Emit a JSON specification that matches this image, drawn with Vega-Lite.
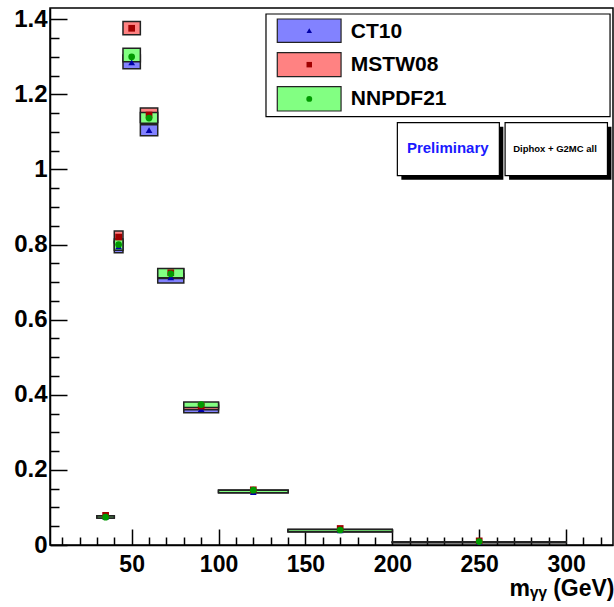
{
  "$schema": "https://vega.github.io/schema/vega-lite/v6.json",
  "width": 563,
  "height": 537,
  "autosize": {"type": "none"},
  "padding": {"left": 50, "top": 8, "right": 1, "bottom": 62},
  "config": {
    "font": "Liberation Sans",
    "view": {"stroke": "#000", "strokeWidth": 1.5},
    "axis": {
      "grid": false,
      "domainColor": "#000",
      "domainWidth": 1.5,
      "tickColor": "#000",
      "tickWidth": 1.5,
      "labelColor": "#000",
      "labelFont": "Liberation Sans",
      "labelFontWeight": "bold",
      "titleColor": "#000",
      "titleFont": "Liberation Sans",
      "titleFontWeight": "bold"
    }
  },
  "datasets": {
    "bins": [
      {"lo": 30, "hi": 40, "mid": 35, "pdf": "CT10", "val": 0.075, "elo": 0.072, "ehi": 0.077},
      {"lo": 30, "hi": 40, "mid": 35, "pdf": "MSTW08", "val": 0.079, "elo": 0.073, "ehi": 0.078},
      {"lo": 30, "hi": 40, "mid": 35, "pdf": "NNPDF21", "val": 0.074, "elo": 0.072, "ehi": 0.077},
      {"lo": 40, "hi": 45, "mid": 42.5, "pdf": "CT10", "val": 0.795, "elo": 0.778, "ehi": 0.808},
      {"lo": 40, "hi": 45, "mid": 42.5, "pdf": "MSTW08", "val": 0.82, "elo": 0.805, "ehi": 0.836},
      {"lo": 40, "hi": 45, "mid": 42.5, "pdf": "NNPDF21", "val": 0.8, "elo": 0.785, "ehi": 0.815},
      {"lo": 45, "hi": 55, "mid": 50, "pdf": "CT10", "val": 1.285, "elo": 1.268, "ehi": 1.305},
      {"lo": 45, "hi": 55, "mid": 50, "pdf": "MSTW08", "val": 1.376, "elo": 1.359, "ehi": 1.394},
      {"lo": 45, "hi": 55, "mid": 50, "pdf": "NNPDF21", "val": 1.3, "elo": 1.287, "ehi": 1.323},
      {"lo": 55, "hi": 65, "mid": 60, "pdf": "CT10", "val": 1.105, "elo": 1.09, "ehi": 1.119},
      {"lo": 55, "hi": 65, "mid": 60, "pdf": "MSTW08", "val": 1.145, "elo": 1.125, "ehi": 1.164},
      {"lo": 55, "hi": 65, "mid": 60, "pdf": "NNPDF21", "val": 1.137, "elo": 1.123, "ehi": 1.152},
      {"lo": 65, "hi": 80, "mid": 72.5, "pdf": "CT10", "val": 0.713, "elo": 0.698, "ehi": 0.722},
      {"lo": 65, "hi": 80, "mid": 72.5, "pdf": "MSTW08", "val": 0.725, "elo": 0.71, "ehi": 0.735},
      {"lo": 65, "hi": 80, "mid": 72.5, "pdf": "NNPDF21", "val": 0.722, "elo": 0.712, "ehi": 0.736},
      {"lo": 80, "hi": 100, "mid": 90, "pdf": "CT10", "val": 0.362, "elo": 0.352, "ehi": 0.372},
      {"lo": 80, "hi": 100, "mid": 90, "pdf": "MSTW08", "val": 0.37, "elo": 0.36, "ehi": 0.378},
      {"lo": 80, "hi": 100, "mid": 90, "pdf": "NNPDF21", "val": 0.374, "elo": 0.366, "ehi": 0.381},
      {"lo": 100, "hi": 140, "mid": 120, "pdf": "CT10", "val": 0.141, "elo": 0.139, "ehi": 0.146},
      {"lo": 100, "hi": 140, "mid": 120, "pdf": "MSTW08", "val": 0.147, "elo": 0.14, "ehi": 0.146},
      {"lo": 100, "hi": 140, "mid": 120, "pdf": "NNPDF21", "val": 0.146, "elo": 0.139, "ehi": 0.146},
      {"lo": 140, "hi": 200, "mid": 170, "pdf": "CT10", "val": 0.039, "elo": 0.035, "ehi": 0.041},
      {"lo": 140, "hi": 200, "mid": 170, "pdf": "MSTW08", "val": 0.044, "elo": 0.035, "ehi": 0.041},
      {"lo": 140, "hi": 200, "mid": 170, "pdf": "NNPDF21", "val": 0.04, "elo": 0.035, "ehi": 0.041},
      {"lo": 200, "hi": 300, "mid": 250, "pdf": "CT10", "val": 0.008, "elo": 0.0065, "ehi": 0.008},
      {"lo": 200, "hi": 300, "mid": 250, "pdf": "MSTW08", "val": 0.011, "elo": 0.0065, "ehi": 0.008},
      {"lo": 200, "hi": 300, "mid": 250, "pdf": "NNPDF21", "val": 0.009, "elo": 0.0065, "ehi": 0.008}
    ]
  },
  "layer": [
    {
      "data": {"values": [{}]},
      "mark": {"type": "rect", "fill": "#fff", "stroke": "#000", "strokeWidth": 1.2},
      "encoding": {
        "x": {"datum": 127.3, "type": "quantitative", "scale": {"domain": [3, 327], "nice": false, "zero": false}, "axis": null},
        "x2": {"datum": 325.3},
        "y": {"datum": 1.414, "type": "quantitative", "scale": {"domain": [0, 1.43], "nice": false, "zero": false}, "axis": null},
        "y2": {"datum": 1.1406}
      }
    },
    {
      "data": {"values": [{}]},
      "mark": {"type": "rect", "fill": "#8282ff", "stroke": "#222", "strokeWidth": 1.2},
      "encoding": {
        "x": {"datum": 133.8, "type": "quantitative", "scale": {"domain": [3, 327], "nice": false, "zero": false}, "axis": null},
        "x2": {"datum": 170.5},
        "y": {"datum": 1.4007, "type": "quantitative", "scale": {"domain": [0, 1.43], "nice": false, "zero": false}, "axis": null},
        "y2": {"datum": 1.3387}
      }
    },
    {
      "data": {"values": [{}]},
      "mark": {"type": "rect", "fill": "#ff8282", "stroke": "#222", "strokeWidth": 1.2},
      "encoding": {
        "x": {"datum": 133.8, "type": "quantitative", "scale": {"domain": [3, 327], "nice": false, "zero": false}, "axis": null},
        "x2": {"datum": 170.5},
        "y": {"datum": 1.311, "type": "quantitative", "scale": {"domain": [0, 1.43], "nice": false, "zero": false}, "axis": null},
        "y2": {"datum": 1.2471}
      }
    },
    {
      "data": {"values": [{}]},
      "mark": {"type": "rect", "fill": "#82ff82", "stroke": "#222", "strokeWidth": 1.2},
      "encoding": {
        "x": {"datum": 133.8, "type": "quantitative", "scale": {"domain": [3, 327], "nice": false, "zero": false}, "axis": null},
        "x2": {"datum": 170.5},
        "y": {"datum": 1.2205, "type": "quantitative", "scale": {"domain": [0, 1.43], "nice": false, "zero": false}, "axis": null},
        "y2": {"datum": 1.1557}
      }
    },
    {
      "data": {"values": [{}]},
      "mark": {"type": "point", "filled": true, "size": 30, "shape": "triangle-up", "color": "#0000a8", "opacity": 1},
      "encoding": {
        "x": {"datum": 152.2, "type": "quantitative", "scale": {"domain": [3, 327], "nice": false, "zero": false}, "axis": null},
        "y": {"datum": 1.3696, "type": "quantitative", "scale": {"domain": [0, 1.43], "nice": false, "zero": false}, "axis": null}
      }
    },
    {
      "data": {"values": [{}]},
      "mark": {"type": "point", "filled": true, "size": 30, "shape": "square", "color": "#a00000", "opacity": 1},
      "encoding": {
        "x": {"datum": 152.2, "type": "quantitative", "scale": {"domain": [3, 327], "nice": false, "zero": false}, "axis": null},
        "y": {"datum": 1.2791, "type": "quantitative", "scale": {"domain": [0, 1.43], "nice": false, "zero": false}, "axis": null}
      }
    },
    {
      "data": {"values": [{}]},
      "mark": {"type": "point", "filled": true, "size": 35, "shape": "circle", "color": "#009a00", "opacity": 1},
      "encoding": {
        "x": {"datum": 152.2, "type": "quantitative", "scale": {"domain": [3, 327], "nice": false, "zero": false}, "axis": null},
        "y": {"datum": 1.188, "type": "quantitative", "scale": {"domain": [0, 1.43], "nice": false, "zero": false}, "axis": null}
      }
    },
    {
      "data": {"name": "bins"},
      "mark": {"type": "rect", "stroke": "#222", "strokeWidth": 1.5},
      "encoding": {
        "x": {
          "field": "lo", "type": "quantitative",
          "scale": {"domain": [3, 327], "nice": false, "zero": false},
          "axis": {
            "orient": "bottom",
            "values": [50, 100, 150, 200, 250, 300],
            "tickSize": -16,
            "labelFontSize": 23,
            "labelPadding": 24,
            "title": "mᵧᵧ (GeV)",
            "titleFontSize": 23,
            "titleAnchor": "end",
            "titleAlign": "right",
            "titleBaseline": "alphabetic",
            "titleX": 564,
            "titleY": 50
          }
        },
        "x2": {"field": "hi"},
        "y": {
          "field": "elo", "type": "quantitative",
          "scale": {"domain": [0, 1.43], "nice": false, "zero": false},
          "axis": {
            "orient": "left",
            "values": [0, 0.2, 0.4, 0.6, 0.8, 1, 1.2, 1.4],
            "format": ".1~f",
            "tickSize": -17,
            "labelFontSize": 24,
            "labelPadding": 20,
            "title": null
          }
        },
        "y2": {"field": "ehi"},
        "fill": {
          "field": "pdf", "type": "nominal",
          "scale": {"domain": ["CT10", "MSTW08", "NNPDF21"], "range": ["#8282ff", "#ff8282", "#82ff82"]},
          "legend": {
            "orient": "none",
            "legendX": 246.8,
            "legendY": 12,
            "title": null,
            "symbolType": "M-2.7,-1H2.7V1H-2.7Z",
            "symbolSize": 529,
            "symbolStrokeWidth": 0,
            "symbolOpacity": 0,
            "labelFont": "Liberation Sans",
            "labelFontWeight": "bold",
            "labelFontSize": 21,
            "labelColor": "#000",
            "labelOffset": 31,
            "padding": 0,
            "rowPadding": 10.6
          }
        }
      }
    },
    {
      "data": {"name": "bins"},
      "mark": {"type": "point", "filled": true, "size": 45, "opacity": 1},
      "encoding": {
        "x": {
          "field": "mid", "type": "quantitative",
          "scale": {"domain": [3, 327], "nice": false, "zero": false},
          "axis": {
            "orient": "bottom",
            "values": [10, 20, 30, 40, 60, 70, 80, 90, 110, 120, 130, 140, 160, 170, 180, 190, 210, 220, 230, 240, 260, 270, 280, 290, 310, 320],
            "tickSize": -8,
            "labels": false,
            "domain": false,
            "title": null
          }
        },
        "y": {
          "field": "val", "type": "quantitative",
          "scale": {"domain": [0, 1.43], "nice": false, "zero": false},
          "axis": {
            "orient": "left",
            "values": [0.05, 0.1, 0.15, 0.25, 0.3, 0.35, 0.45, 0.5, 0.55, 0.65, 0.7, 0.75, 0.85, 0.9, 0.95, 1.05, 1.1, 1.15, 1.25, 1.3, 1.35],
            "tickSize": -9,
            "labels": false,
            "domain": false,
            "title": null
          }
        },
        "color": {
          "field": "pdf", "type": "nominal",
          "scale": {"domain": ["NNPDF21", "MSTW08", "CT10"], "range": ["#009a00", "#a00000", "#0000a8"]},
          "legend": null
        },
        "shape": {
          "field": "pdf", "type": "nominal",
          "scale": {"domain": ["NNPDF21", "MSTW08", "CT10"], "range": ["circle", "square", "triangle-up"]},
          "legend": null
        }
      }
    },
    {
      "data": {"values": [{}]},
      "mark": {"type": "rect", "fill": "#000"},
      "encoding": {
        "x": {"datum": 205.2, "type": "quantitative", "scale": {"domain": [3, 327], "nice": false, "zero": false}, "axis": null},
        "x2": {"datum": 263.9},
        "y": {"datum": 1.114, "type": "quantitative", "scale": {"domain": [0, 1.43], "nice": false, "zero": false}, "axis": null},
        "y2": {"datum": 0.9727}
      }
    },
    {
      "data": {"values": [{}]},
      "mark": {"type": "rect", "fill": "#000"},
      "encoding": {
        "x": {"datum": 267.2, "type": "quantitative", "scale": {"domain": [3, 327], "nice": false, "zero": false}, "axis": null},
        "x2": {"datum": 326.1},
        "y": {"datum": 1.114, "type": "quantitative", "scale": {"domain": [0, 1.43], "nice": false, "zero": false}, "axis": null},
        "y2": {"datum": 0.9727}
      }
    },
    {
      "data": {"values": [{}]},
      "mark": {"type": "rect", "fill": "#fff", "stroke": "#000", "strokeWidth": 1.2},
      "encoding": {
        "x": {"datum": 202.9, "type": "quantitative", "scale": {"domain": [3, 327], "nice": false, "zero": false}, "axis": null},
        "x2": {"datum": 261.6},
        "y": {"datum": 1.1246, "type": "quantitative", "scale": {"domain": [0, 1.43], "nice": false, "zero": false}, "axis": null},
        "y2": {"datum": 0.9834}
      }
    },
    {
      "data": {"values": [{}]},
      "mark": {"type": "rect", "fill": "#fff", "stroke": "#000", "strokeWidth": 1.2},
      "encoding": {
        "x": {"datum": 264.9, "type": "quantitative", "scale": {"domain": [3, 327], "nice": false, "zero": false}, "axis": null},
        "x2": {"datum": 323.8},
        "y": {"datum": 1.1246, "type": "quantitative", "scale": {"domain": [0, 1.43], "nice": false, "zero": false}, "axis": null},
        "y2": {"datum": 0.9834}
      }
    },
    {
      "data": {"values": [{}]},
      "mark": {"type": "text", "text": "Preliminary", "font": "Liberation Sans", "fontWeight": "bold", "fontSize": 15, "fill": "#1a1aff", "align": "center", "baseline": "middle"},
      "encoding": {
        "x": {"datum": 231.9, "type": "quantitative", "scale": {"domain": [3, 327], "nice": false, "zero": false}, "axis": null},
        "y": {"datum": 1.056, "type": "quantitative", "scale": {"domain": [0, 1.43], "nice": false, "zero": false}, "axis": null}
      }
    },
    {
      "data": {"values": [{}]},
      "mark": {"type": "text", "text": "Diphox + G2MC all", "font": "Liberation Sans", "fontWeight": "bold", "fontSize": 9.5, "fill": "#000", "align": "center", "baseline": "middle"},
      "encoding": {
        "x": {"datum": 293.6, "type": "quantitative", "scale": {"domain": [3, 327], "nice": false, "zero": false}, "axis": null},
        "y": {"datum": 1.055, "type": "quantitative", "scale": {"domain": [0, 1.43], "nice": false, "zero": false}, "axis": null}
      }
    }
  ],
  "resolve": {"axis": {"x": "independent", "y": "independent"}}
}
